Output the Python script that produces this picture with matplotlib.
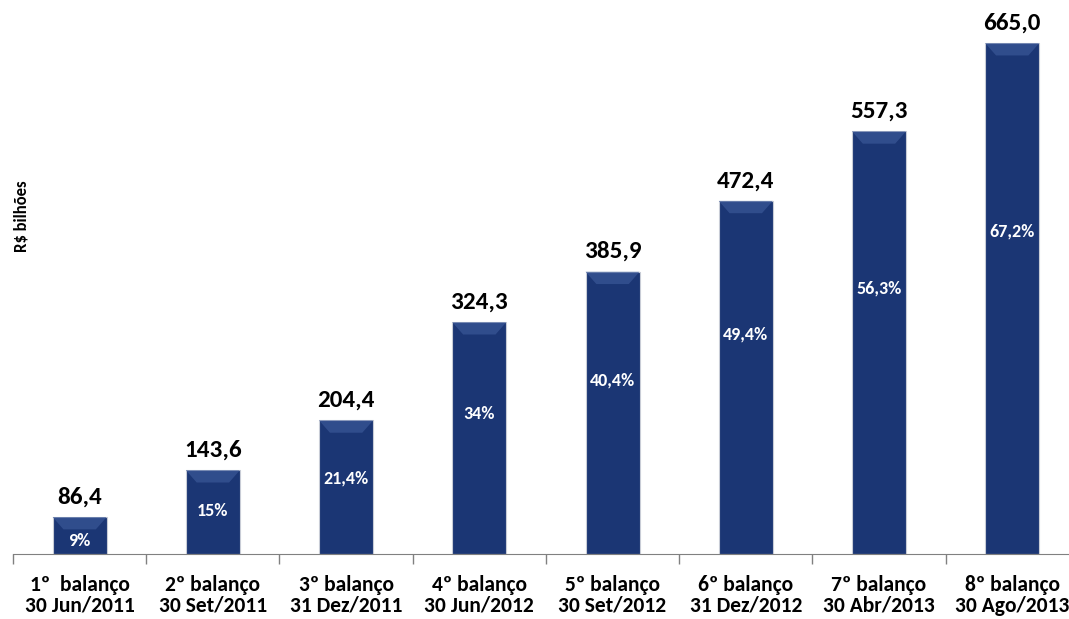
import matplotlib.pyplot as plt
from matplotlib.patches import Polygon

plt.rcParams['font.family'] = ['Carlito', 'DejaVu Sans']

categorias = ['1º  balanço\n30 Jun/2011', '2º balanço\n30 Set/2011', '3º balanço\n31 Dez/2011',
              '4º balanço\n30 Jun/2012', '5º balanço\n30 Set/2012', '6º balanço\n31 Dez/2012',
              '7º balanço\n30 Abr/2013', '8º balanço\n30 Ago/2013']
valores = [86.4, 143.6, 204.4, 324.3, 385.9, 472.4, 557.3, 665.0]
percentuais = ['9%', '15%', '21,4%', '34%', '40,4%', '49,4%', '56,3%', '67,2%']

azul = '#1b3674'

fig = plt.figure(figsize=(10.69, 6.19), dpi=100)
fig.set_facecolor('white')
ax = fig.add_axes([0.0122, 0.105, 0.997, 0.895])

x = list(range(len(valores)))
largura = 0.405
ymin = 41.3
bars = ax.bar(x, [v - ymin for v in valores], bottom=ymin, width=largura,
              color=azul, edgecolor='#c8ccd6', linewidth=0.8, zorder=2)

# leve chanfro no topo de cada barra
for b in bars:
    x0, w = b.get_x(), b.get_width()
    top = b.get_y() + b.get_height()
    d = 15
    poly = Polygon([(x0, top), (x0 + w, top), (x0 + w - w * 0.2, top - d), (x0 + w * 0.2, top - d)],
                   closed=True, facecolor='#3a5797', edgecolor='none', alpha=0.7, zorder=3)
    ax.add_patch(poly)

for xi, v, p in zip(x, valores, percentuais):
    ax.annotate(f'{v:.1f}'.replace('.', ','), (xi, v), xytext=(0, 7), textcoords='offset points',
                ha='center', va='bottom', fontsize=18, fontweight='bold', color='black')
    ax.text(xi, v * 0.655, p, ha='center', va='center', fontsize=13,
            fontweight='bold', color='white', zorder=4)

ax.set_xlim(-0.5, 7.5)
ax.set_ylim(ymin, 717.7)

ax.set_xticks([i - 0.5 for i in range(len(valores) + 1)])
ax.set_xticklabels([])
ax.set_xticks(x, minor=True)
ax.set_xticklabels(categorias, minor=True, fontsize=15.5, fontweight='bold', linespacing=1.05)
ax.tick_params(axis='x', which='major', length=7, color='#808080', width=1)
ax.tick_params(axis='x', which='minor', length=0, pad=15)
ax.set_yticks([])

for s in ['top', 'right', 'left']:
    ax.spines[s].set_visible(False)
ax.spines['bottom'].set_color('#808080')

fig.text(0.0205, 0.651, 'R$ bilhões', rotation=90, ha='center', va='center',
         fontsize=12, fontweight='bold')

fig.savefig('out.png', dpi=100)
